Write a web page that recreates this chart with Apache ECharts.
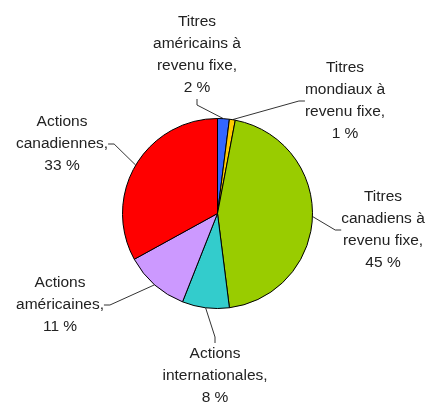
<!DOCTYPE html>
<html><head><meta charset="utf-8">
<script src="https://cdn.jsdelivr.net/npm/echarts@6/dist/echarts.min.js"></script>
<style>html,body{margin:0;padding:0;background:#fff}#c{width:432px;height:405px}</style>
</head><body><div id="c"></div>
<script>
var categories = ["Titres\naméricains à\nrevenu fixe,", "Titres\nmondiaux à\nrevenu fixe,", "Titres\ncanadiens à\nrevenu fixe,", "Actions\ninternationales,", "Actions\naméricaines,", "Actions\ncanadiennes,"];
var values = [2, 1, 45, 8, 11, 33];
var colors = ["#3366FF", "#FFCC00", "#99CC00", "#33CCCC", "#CC99FF", "#FF0000"];
var labelPos = [[197, 55], [345, 101], [383, 230], [215, 376], [60, 305], [62, 144]];

var chart = echarts.init(document.getElementById('c'), null, {renderer: 'canvas'});
chart.setOption({
  animation: false,
  series: [{
    type: 'pie',
    center: [217.5, 213.5],
    radius: [0, 95],
    startAngle: 90,
    clockwise: true,
    avoidLabelOverlap: false,
    data: categories.map(function (c, i) {
      return {name: c, value: values[i], itemStyle: {color: colors[i]}};
    }),
    itemStyle: {borderColor: '#000', borderWidth: 1},
    label: {
      show: true,
      formatter: function (p) { return p.name + '\n' + p.value + ' %'; },
      fontFamily: 'Liberation Sans, Arial, sans-serif',
      fontSize: 15.5,
      lineHeight: 22,
      color: '#222',
      align: 'center'
    },
    labelLine: {show: true, length: 12, length2: 6, lineStyle: {color: '#333', width: 1}},
    labelLayout: function (params) {
      var p = labelPos[params.dataIndex];
      return {x: p[0], y: p[1], align: 'center', verticalAlign: 'middle'};
    },
    emphasis: {disabled: true}
  }]
});
</script></body></html>
